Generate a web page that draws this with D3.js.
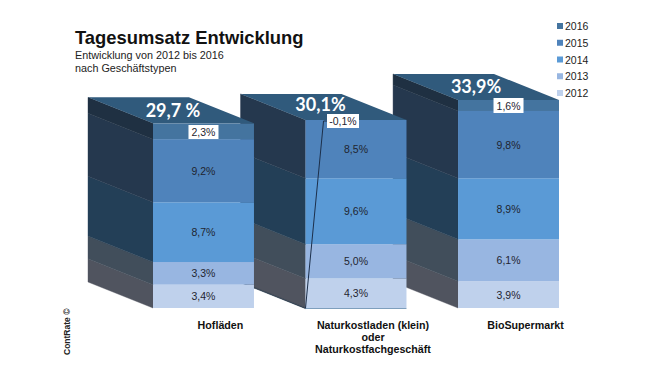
<!DOCTYPE html>
<html>
<head>
<meta charset="utf-8">
<script src="https://cdnjs.cloudflare.com/ajax/libs/d3/7.8.5/d3.min.js"></script>
<style>
html, body { margin: 0; padding: 0; background: #fff; }
svg { display: block; }
text { font-family: "Liberation Sans", Arial, sans-serif; }
</style>
</head>
<body>
<svg id="chart" width="650" height="371"></svg>
<script>
const categories = ['Hofläden', 'Naturkostladen (klein)', 'BioSupermarkt'];
const years = ['2012', '2013', '2014', '2015', '2016'];
const values2012 = [3.4, 4.3, 3.9];
const values2013 = [3.3, 5.0, 6.1];
const values2014 = [8.7, 9.6, 8.9];
const values2015 = [9.2, 8.5, 9.8];
const values2016 = [2.3, -0.1, 1.6];
const totalLabels = ['29,7 %', '30,1%', '33,9%'];

const frontColors = ['#bfd1ec', '#98b6e1', '#5a9ad6', '#4f83bb', '#44749f'];
const sideColors = ['#50545f', '#414e5b', '#233f57', '#25384e', '#1f3042'];
const topColor = '#305a7c';

const svg = d3.select('#chart');

const depthX = 65;
const depthY = 26;

const rows = categories.map((c, i) => ({
    category: c,
    '2012': values2012[i],
    '2013': values2013[i],
    '2014': values2014[i],
    '2015': values2015[i],
    '2016': values2016[i]
}));

const series = d3.stack()
    .keys(years)
    .offset(d3.stackOffsetDiverging)(rows);

const x = d3.scaleBand()
    .domain(categories)
    .range([153, 559])
    .paddingInner(0.338)
    .paddingOuter(0);

const y = d3.scaleLinear()
    .domain([0, 30.3])
    .range([308, 100]);

const front = d3.scaleOrdinal().domain(years).range(frontColors);
const side = d3.scaleOrdinal().domain(years).range(sideColors);

const fmt = v => v.toFixed(1).replace('.', ',') + '%';

// bars are painted right to left, the left one sits in front of its neighbour
categories.slice().reverse().forEach(cat => {
    const i = categories.indexOf(cat);
    const bar = svg.append('g').attr('class', 'bar');
    const x0 = x(cat);
    const x1 = x0 + x.bandwidth();

    series.forEach(s => {
        const d = s[i];
        const yTop = y(d[1]);
        const yBottom = y(d[0]);

        // thin stroke hides the antialiasing seam between the side segments
        bar.append('path')
            .attr('d', `M${x0} ${yTop} L${x0 - depthX} ${yTop - depthY} L${x0 - depthX} ${yBottom - depthY} L${x0} ${yBottom} Z`)
            .attr('fill', side(s.key))
            .attr('stroke', side(s.key))
            .attr('stroke-width', 0.4);

        bar.append('rect')
            .attr('x', x0)
            .attr('y', yTop)
            .attr('width', x.bandwidth())
            .attr('height', yBottom - yTop)
            .attr('fill', front(s.key));
    });

    const top = y(d3.max(series, s => s[i][1]));
    bar.append('path')
        .attr('d', `M${x0} ${top} L${x1} ${top} L${x1 - depthX} ${top - depthY} L${x0 - depthX} ${top - depthY} Z`)
        .attr('fill', topColor);
});

// value labels
series.forEach(s => {
    if (s.key === '2016') return;
    svg.append('g').selectAll('text')
        .data(s)
        .enter()
        .append('text')
        .attr('x', d => x(d.data.category) + x.bandwidth() / 2)
        .attr('y', d => (y(d[0]) + y(d[1])) / 2 + 4)
        .attr('text-anchor', 'middle')
        .attr('font-size', 10.5)
        .attr('fill', '#1f2530')
        .text(d => fmt(d[1] - d[0]));
});

// leader line of the negative 2016 value
const leaderX = x(categories[1]);
svg.append('path')
    .attr('d', `M${leaderX + 22} 121 L${leaderX + 18} 121 L${leaderX} ${y(0)}`)
    .attr('fill', 'none')
    .attr('stroke', '#1c2f4a')
    .attr('stroke-width', 1);

// 2016 labels sit in white boxes
const boxOffsets = [
    {dx: 0, top: 125, h: 14},
    {dx: -13, top: 114, h: 14},
    {dx: 0, top: 98, h: 15}
];
values2016.forEach((v, i) => {
    const cx = x(categories[i]) + x.bandwidth() / 2 + boxOffsets[i].dx;
    const w = i === 1 ? 32 : 30;
    svg.append('rect')
        .attr('x', cx - w / 2)
        .attr('y', boxOffsets[i].top)
        .attr('width', w)
        .attr('height', boxOffsets[i].h)
        .attr('fill', '#fff');
    svg.append('text')
        .attr('x', cx)
        .attr('y', boxOffsets[i].top + boxOffsets[i].h / 2 + 4)
        .attr('text-anchor', 'middle')
        .attr('font-size', 10.5)
        .attr('fill', '#1f2530')
        .text(fmt(v));
});

// totals on the top faces
const totalOffsets = [
    {dx: 20, dy: -6},
    {dx: 15, dy: -9},
    {dx: 18, dy: -7}
];
svg.append('g').selectAll('text')
    .data(totalLabels)
    .enter()
    .append('text')
    .attr('x', (d, i) => x(categories[i]) + totalOffsets[i].dx)
    .attr('y', (d, i) => y(d3.max(series, s => s[i][1])) + totalOffsets[i].dy)
    .attr('text-anchor', 'middle')
    .style('font-family', 'Lato, sans-serif')
    .attr('font-weight', 700)
    .attr('font-size', 18)
    .attr('fill', '#fff')
    .text(d => d);

// category labels
const labelLines = [['Hofläden'], ['Naturkostladen (klein)', 'oder', 'Naturkostfachgeschäft'], ['BioSupermarkt']];
labelLines.forEach((lines, i) => {
    svg.append('g').selectAll('text')
        .data(lines)
        .enter()
        .append('text')
        .attr('x', x(categories[i]) + x.bandwidth() / 2 + 17)
        .attr('y', (d, j) => 329 + j * 12)
        .attr('text-anchor', 'middle')
        .attr('font-size', 10.7)
        .attr('font-weight', 700)
        .attr('fill', '#111')
        .text(d => d);
});

// legend
const legendY = d3.scalePoint()
    .domain(years.slice().reverse())
    .range([26, 93]);

const legend = svg.append('g').selectAll('g')
    .data(years)
    .enter()
    .append('g')
    .attr('transform', d => 'translate(557,' + legendY(d) + ')');

legend.append('rect')
    .attr('y', -3)
    .attr('width', 6)
    .attr('height', 6)
    .attr('fill', d => front(d));

legend.append('text')
    .attr('x', 8)
    .attr('y', 4)
    .attr('font-size', 10.5)
    .attr('fill', '#222')
    .text(d => d);

// titles
svg.append('text')
    .attr('x', 75).attr('y', 44)
    .attr('font-size', 18.4).attr('font-weight', 700).attr('fill', '#111')
    .text('Tagesumsatz Entwicklung');
svg.append('text')
    .attr('x', 75).attr('y', 59)
    .attr('font-size', 10.8).attr('fill', '#222')
    .text('Entwicklung von 2012 bis 2016');
svg.append('text')
    .attr('x', 75).attr('y', 72)
    .attr('font-size', 10.8).attr('fill', '#222')
    .text('nach Geschäftstypen');

svg.append('text')
    .attr('transform', 'translate(70,355) rotate(-90)')
    .attr('font-size', 8.5).attr('font-weight', 700).attr('fill', '#222')
    .text('ContRate ©');
</script>
</body>
</html>
